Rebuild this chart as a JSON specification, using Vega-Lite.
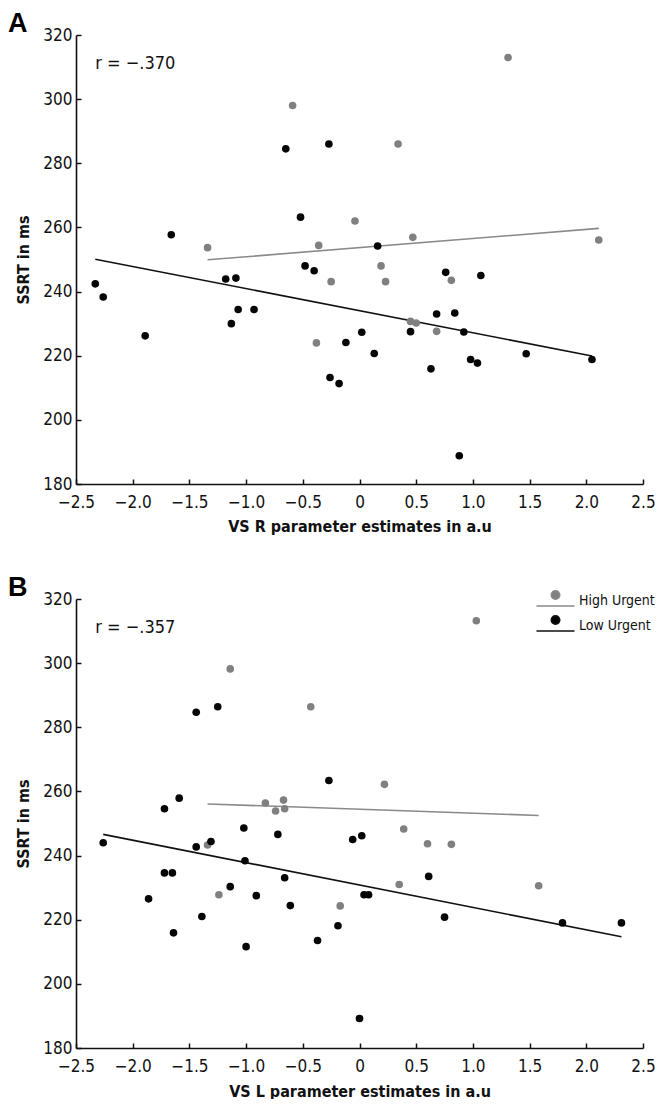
{
  "$schema": "https://vega.github.io/schema/vega-lite/v6.json",
  "padding": {"left": 8, "top": 10, "right": 2, "bottom": 0},
  "background": "white",
  "config": {
    "view": {"stroke": null},
    "font": "DejaVu Sans Condensed, Roboto, sans-serif",
    "axis": {
      "grid": false,
      "domainColor": "#111111",
      "domainWidth": 1.6,
      "tickColor": "#111111",
      "tickWidth": 1.5,
      "tickSize": -5,
      "labelFlush": false,
      "labelOverlap": false,
      "labelFont": "DejaVu Sans Condensed, Roboto, sans-serif",
      "labelFontSize": 17,
      "labelColor": "#111111",
      "titleFont": "DejaVu Sans Condensed, Roboto, sans-serif",
      "titleFontSize": 16,
      "titleFontWeight": "bold",
      "titleColor": "#111111"
    },
    "legend": {
      "labelFont": "DejaVu Sans Condensed, Roboto, sans-serif",
      "labelFontSize": 14,
      "labelColor": "#111111"
    },
    "title": {"font": "Liberation Sans", "fontSize": 27, "fontWeight": "bold", "color": "#000000"}
  },
  "datasets": {
    "pts": [
      {"panel": "A", "group": "High Urgent", "vs": -0.59, "ssrt": 298},
      {"panel": "A", "group": "High Urgent", "vs": -1.34, "ssrt": 253.7},
      {"panel": "A", "group": "High Urgent", "vs": -0.36, "ssrt": 254.4},
      {"panel": "A", "group": "High Urgent", "vs": 1.31, "ssrt": 313},
      {"panel": "A", "group": "High Urgent", "vs": 0.34, "ssrt": 286},
      {"panel": "A", "group": "High Urgent", "vs": -0.04, "ssrt": 262},
      {"panel": "A", "group": "High Urgent", "vs": 0.47, "ssrt": 256.9},
      {"panel": "A", "group": "High Urgent", "vs": 2.11, "ssrt": 256.1},
      {"panel": "A", "group": "High Urgent", "vs": 0.19, "ssrt": 248},
      {"panel": "A", "group": "High Urgent", "vs": -0.25, "ssrt": 243.1},
      {"panel": "A", "group": "High Urgent", "vs": 0.23, "ssrt": 243.1},
      {"panel": "A", "group": "High Urgent", "vs": 0.81, "ssrt": 243.5},
      {"panel": "A", "group": "High Urgent", "vs": -0.38, "ssrt": 224},
      {"panel": "A", "group": "High Urgent", "vs": 0.45, "ssrt": 230.7},
      {"panel": "A", "group": "High Urgent", "vs": 0.5, "ssrt": 230.2},
      {"panel": "A", "group": "High Urgent", "vs": 0.68, "ssrt": 227.6},
      {"panel": "A", "group": "Low Urgent", "vs": -0.65, "ssrt": 284.5},
      {"panel": "A", "group": "Low Urgent", "vs": -0.27, "ssrt": 286},
      {"panel": "A", "group": "Low Urgent", "vs": -0.52, "ssrt": 263.2},
      {"panel": "A", "group": "Low Urgent", "vs": -1.66, "ssrt": 257.7},
      {"panel": "A", "group": "Low Urgent", "vs": -0.48, "ssrt": 248},
      {"panel": "A", "group": "Low Urgent", "vs": -0.4, "ssrt": 246.5},
      {"panel": "A", "group": "Low Urgent", "vs": 0.16, "ssrt": 254.2},
      {"panel": "A", "group": "Low Urgent", "vs": 0.76, "ssrt": 246},
      {"panel": "A", "group": "Low Urgent", "vs": 1.07, "ssrt": 245},
      {"panel": "A", "group": "Low Urgent", "vs": -2.33, "ssrt": 242.4},
      {"panel": "A", "group": "Low Urgent", "vs": -2.26, "ssrt": 238.3},
      {"panel": "A", "group": "Low Urgent", "vs": -1.89, "ssrt": 226.2},
      {"panel": "A", "group": "Low Urgent", "vs": -1.18, "ssrt": 243.9},
      {"panel": "A", "group": "Low Urgent", "vs": -1.09, "ssrt": 244.2},
      {"panel": "A", "group": "Low Urgent", "vs": -1.07, "ssrt": 234.4},
      {"panel": "A", "group": "Low Urgent", "vs": -1.13, "ssrt": 230},
      {"panel": "A", "group": "Low Urgent", "vs": -0.93, "ssrt": 234.4},
      {"panel": "A", "group": "Low Urgent", "vs": -0.26, "ssrt": 213.2},
      {"panel": "A", "group": "Low Urgent", "vs": -0.18, "ssrt": 211.3},
      {"panel": "A", "group": "Low Urgent", "vs": 0.68, "ssrt": 233},
      {"panel": "A", "group": "Low Urgent", "vs": 0.84, "ssrt": 233.3},
      {"panel": "A", "group": "Low Urgent", "vs": 0.45, "ssrt": 227.5},
      {"panel": "A", "group": "Low Urgent", "vs": 0.92, "ssrt": 227.4},
      {"panel": "A", "group": "Low Urgent", "vs": -0.12, "ssrt": 224.1},
      {"panel": "A", "group": "Low Urgent", "vs": 0.02, "ssrt": 227.3},
      {"panel": "A", "group": "Low Urgent", "vs": 0.13, "ssrt": 220.7},
      {"panel": "A", "group": "Low Urgent", "vs": 0.63, "ssrt": 215.9},
      {"panel": "A", "group": "Low Urgent", "vs": 0.98, "ssrt": 218.8},
      {"panel": "A", "group": "Low Urgent", "vs": 1.04, "ssrt": 217.7},
      {"panel": "A", "group": "Low Urgent", "vs": 1.47, "ssrt": 220.6},
      {"panel": "A", "group": "Low Urgent", "vs": 2.05, "ssrt": 218.8},
      {"panel": "A", "group": "Low Urgent", "vs": 0.88, "ssrt": 188.8},
      {"panel": "B", "group": "High Urgent", "vs": -1.14, "ssrt": 298.2},
      {"panel": "B", "group": "High Urgent", "vs": -0.43, "ssrt": 286.4},
      {"panel": "B", "group": "High Urgent", "vs": -0.83, "ssrt": 256.4},
      {"panel": "B", "group": "High Urgent", "vs": -0.67, "ssrt": 257.3},
      {"panel": "B", "group": "High Urgent", "vs": -0.74, "ssrt": 253.9},
      {"panel": "B", "group": "High Urgent", "vs": -0.66, "ssrt": 254.6},
      {"panel": "B", "group": "High Urgent", "vs": 1.03, "ssrt": 313.2},
      {"panel": "B", "group": "High Urgent", "vs": 0.22, "ssrt": 262.2},
      {"panel": "B", "group": "High Urgent", "vs": 0.39, "ssrt": 248.3},
      {"panel": "B", "group": "High Urgent", "vs": -1.34, "ssrt": 243.3},
      {"panel": "B", "group": "High Urgent", "vs": -1.24, "ssrt": 227.8},
      {"panel": "B", "group": "High Urgent", "vs": 0.6, "ssrt": 243.7},
      {"panel": "B", "group": "High Urgent", "vs": 0.81, "ssrt": 243.5},
      {"panel": "B", "group": "High Urgent", "vs": 0.35, "ssrt": 231},
      {"panel": "B", "group": "High Urgent", "vs": 1.58, "ssrt": 230.6},
      {"panel": "B", "group": "High Urgent", "vs": -0.17, "ssrt": 224.3},
      {"panel": "B", "group": "Low Urgent", "vs": -1.44, "ssrt": 284.7},
      {"panel": "B", "group": "Low Urgent", "vs": -1.25, "ssrt": 286.4},
      {"panel": "B", "group": "Low Urgent", "vs": -0.27, "ssrt": 263.4},
      {"panel": "B", "group": "Low Urgent", "vs": -1.59, "ssrt": 257.9},
      {"panel": "B", "group": "Low Urgent", "vs": -1.72, "ssrt": 254.6},
      {"panel": "B", "group": "Low Urgent", "vs": -1.02, "ssrt": 248.6},
      {"panel": "B", "group": "Low Urgent", "vs": -0.72, "ssrt": 246.6},
      {"panel": "B", "group": "Low Urgent", "vs": -0.06, "ssrt": 245},
      {"panel": "B", "group": "Low Urgent", "vs": 0.02, "ssrt": 246.2},
      {"panel": "B", "group": "Low Urgent", "vs": -2.26, "ssrt": 244},
      {"panel": "B", "group": "Low Urgent", "vs": -1.86, "ssrt": 226.5},
      {"panel": "B", "group": "Low Urgent", "vs": -1.72, "ssrt": 234.6},
      {"panel": "B", "group": "Low Urgent", "vs": -1.65, "ssrt": 234.6},
      {"panel": "B", "group": "Low Urgent", "vs": -1.64, "ssrt": 215.9},
      {"panel": "B", "group": "Low Urgent", "vs": -1.44, "ssrt": 242.7},
      {"panel": "B", "group": "Low Urgent", "vs": -1.31, "ssrt": 244.4},
      {"panel": "B", "group": "Low Urgent", "vs": -1.39, "ssrt": 221},
      {"panel": "B", "group": "Low Urgent", "vs": -1.14, "ssrt": 230.3},
      {"panel": "B", "group": "Low Urgent", "vs": -1.01, "ssrt": 238.4},
      {"panel": "B", "group": "Low Urgent", "vs": -0.91, "ssrt": 227.5},
      {"panel": "B", "group": "Low Urgent", "vs": -1.0, "ssrt": 211.6},
      {"panel": "B", "group": "Low Urgent", "vs": -0.66, "ssrt": 233.1},
      {"panel": "B", "group": "Low Urgent", "vs": -0.61, "ssrt": 224.4},
      {"panel": "B", "group": "Low Urgent", "vs": -0.37, "ssrt": 213.5},
      {"panel": "B", "group": "Low Urgent", "vs": 0.61, "ssrt": 233.5},
      {"panel": "B", "group": "Low Urgent", "vs": 0.04, "ssrt": 227.8},
      {"panel": "B", "group": "Low Urgent", "vs": 0.08, "ssrt": 227.8},
      {"panel": "B", "group": "Low Urgent", "vs": -0.19, "ssrt": 218.1},
      {"panel": "B", "group": "Low Urgent", "vs": 0.75, "ssrt": 220.8},
      {"panel": "B", "group": "Low Urgent", "vs": 1.79, "ssrt": 219},
      {"panel": "B", "group": "Low Urgent", "vs": 2.31, "ssrt": 219},
      {"panel": "B", "group": "Low Urgent", "vs": 0.0, "ssrt": 189.2}
    ],
    "fit": [
      {"panel": "A", "group": "High Urgent", "vs": -1.34, "ssrt": 249.9},
      {"panel": "A", "group": "High Urgent", "vs": 2.11, "ssrt": 259.7},
      {"panel": "A", "group": "Low Urgent", "vs": -2.33, "ssrt": 250.1},
      {"panel": "A", "group": "Low Urgent", "vs": 2.05, "ssrt": 219.9},
      {"panel": "B", "group": "High Urgent", "vs": -1.34, "ssrt": 256.1},
      {"panel": "B", "group": "High Urgent", "vs": 1.58, "ssrt": 252.5},
      {"panel": "B", "group": "Low Urgent", "vs": -2.26, "ssrt": 246.6},
      {"panel": "B", "group": "Low Urgent", "vs": 2.31, "ssrt": 214.7}
    ]
  },
  "spacing": 40,
  "resolve": {"scale": {"fill": "independent", "stroke": "independent"}},
  "vconcat": [
    {
      "width": 567,
      "height": 449,
      "title": {"text": "A", "anchor": "start", "frame": "group", "dx": -68, "offset": -12},
      "layer": [
        {
          "data": {"name": "fit"},
          "transform": [{"filter": "datum.panel == 'A'"}],
          "mark": {"type": "line", "strokeWidth": 1.6},
          "encoding": {
            "x": {"field": "vs", "type": "quantitative", "scale": {"domain": [-2.5, 2.5], "nice": false, "zero": false},
                  "axis": {"title": "VS R parameter estimates in a.u", "values": [-2.5, -2, -1.5, -1, -0.5, 0, 0.5, 1, 1.5, 2, 2.5],
                           "labelExpr": "datum.value == 0 ? '0' : replace(format(datum.value, '.1f'), '-', '−')",
                           "labelPadding": 15, "titlePadding": 8}},
            "y": {"field": "ssrt", "type": "quantitative", "scale": {"domain": [180, 320], "nice": false, "zero": false},
                  "axis": {"title": "SSRT in ms", "values": [180, 200, 220, 240, 260, 280, 300, 320], "labelPadding": 9, "titlePadding": 11}},
            "stroke": {"field": "group", "type": "nominal", "scale": {"domain": ["High Urgent", "Low Urgent"], "range": ["#8a8a8a", "#111111"]}, "legend": null}
          }
        },
        {
          "data": {"name": "pts"},
          "transform": [{"filter": "datum.panel == 'A'"}],
          "mark": {"type": "point", "filled": true, "size": 58, "opacity": 1, "strokeWidth": 0},
          "encoding": {
            "x": {"field": "vs", "type": "quantitative"},
            "y": {"field": "ssrt", "type": "quantitative"},
            "fill": {"field": "group", "type": "nominal", "scale": {"domain": ["High Urgent", "Low Urgent"], "range": ["#808080", "#050505"]}, "legend": null}
          }
        },
        {
          "data": {"values": [{}]},
          "mark": {"type": "text", "align": "left", "baseline": "middle", "fontSize": 18, "font": "DejaVu Sans Condensed, Roboto, sans-serif", "color": "#111111"},
          "encoding": {
            "x": {"datum": -2.33, "type": "quantitative"},
            "y": {"datum": 311, "type": "quantitative"},
            "text": {"value": "r = −.370"}
          }
        }
      ]
    },
    {
      "width": 567,
      "height": 449,
      "title": {"text": "B", "anchor": "start", "frame": "group", "dx": -68, "offset": -12},
      "layer": [
        {
          "data": {"name": "fit"},
          "transform": [{"filter": "datum.panel == 'B'"}],
          "mark": {"type": "line", "strokeWidth": 1.6},
          "encoding": {
            "x": {"field": "vs", "type": "quantitative", "scale": {"domain": [-2.5, 2.5], "nice": false, "zero": false},
                  "axis": {"title": "VS L parameter estimates in a.u", "values": [-2.5, -2, -1.5, -1, -0.5, 0, 0.5, 1, 1.5, 2, 2.5],
                           "labelExpr": "datum.value == 0 ? '0' : replace(format(datum.value, '.1f'), '-', '−')",
                           "labelPadding": 15, "titlePadding": 9}},
            "y": {"field": "ssrt", "type": "quantitative", "scale": {"domain": [180, 320], "nice": false, "zero": false},
                  "axis": {"title": "SSRT in ms", "values": [180, 200, 220, 240, 260, 280, 300, 320], "labelPadding": 9, "titlePadding": 11}},
            "stroke": {"field": "group", "type": "nominal", "scale": {"domain": ["High Urgent", "Low Urgent"], "range": ["#8a8a8a", "#111111"]},
                       "legend": {"title": null, "orient": "none", "legendX": 469, "legendY": -9, "padding": 0,
                                  "symbolType": "M-2,0.58L2,0.58M-0.45,-0.58A0.45,0.45,0,1,1,0.45,-0.58A0.45,0.45,0,1,1,-0.45,-0.58Z",
                                  "symbolSize": 361, "symbolStrokeWidth": 1.5, "labelOffset": 13, "rowPadding": 2}}
          }
        },
        {
          "data": {"name": "pts"},
          "transform": [{"filter": "datum.panel == 'B'"}],
          "mark": {"type": "point", "filled": true, "size": 58, "opacity": 1, "strokeWidth": 0},
          "encoding": {
            "x": {"field": "vs", "type": "quantitative"},
            "y": {"field": "ssrt", "type": "quantitative"},
            "fill": {"field": "group", "type": "nominal", "scale": {"domain": ["High Urgent", "Low Urgent"], "range": ["#808080", "#050505"]},
                     "legend": {"title": null, "orient": "none", "legendX": 469, "legendY": -9, "padding": 0,
                                "symbolType": "M-2,0.58L2,0.58M-0.45,-0.58A0.45,0.45,0,1,1,0.45,-0.58A0.45,0.45,0,1,1,-0.45,-0.58Z",
                                "symbolSize": 361, "symbolStrokeWidth": 1.5, "labelOffset": 13, "rowPadding": 2}}
          }
        },
        {
          "data": {"values": [{}]},
          "mark": {"type": "text", "align": "left", "baseline": "middle", "fontSize": 18, "font": "DejaVu Sans Condensed, Roboto, sans-serif", "color": "#111111"},
          "encoding": {
            "x": {"datum": -2.33, "type": "quantitative"},
            "y": {"datum": 311, "type": "quantitative"},
            "text": {"value": "r = −.357"}
          }
        }
      ]
    }
  ]
}
